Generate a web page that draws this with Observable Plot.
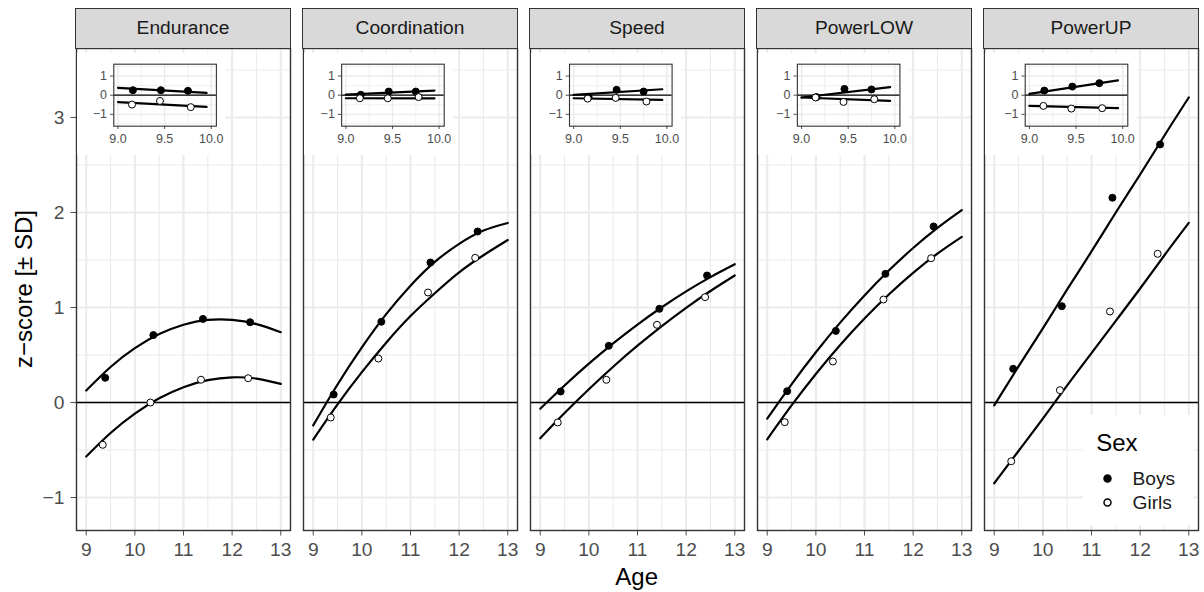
<!DOCTYPE html>
<html><head><meta charset="utf-8">
<script src="https://cdn.jsdelivr.net/npm/d3@7"></script>
<script src="https://cdn.jsdelivr.net/npm/@observablehq/plot@0.6"></script>
<style>
body{margin:0;background:#fff;}
#chart{position:relative;width:1204px;height:592px;font-family:"Liberation Sans",Arial,sans-serif;overflow:hidden;}
#chart svg{display:block;}
.strip{position:absolute;box-sizing:border-box;background:#D9D9D9;border:1.4px solid #333333;color:#1A1A1A;font-size:19.2px;display:flex;align-items:center;justify-content:center;}
.title{position:absolute;color:#000;font-size:24px;white-space:nowrap;transform:translate(-50%,-50%);}
</style></head><body><div id="chart"></div>
<script>
// ---------- data ----------
const facets = ["Endurance", "Coordination", "Speed", "PowerLOW", "PowerUP"];
const sexes = ["Boys", "Girls"];
const xTicks = [9, 10, 11, 12, 13];
const xMinor = [9.5, 10.5, 11.5, 12.5];
const yTicks = [-1, 0, 1, 2, 3];
const yMinor = [-0.5, 0.5, 1.5, 2.5, 3.5];

// observed group means (main panels)
const ptAgeBoys = [[9.39, 10.38, 11.40, 12.37], [9.42, 10.40, 11.41, 12.38], [9.42, 10.41, 11.45, 12.43], [9.41, 10.41, 11.43, 12.42], [9.39, 10.39, 11.43, 12.41]];
const ptZBoys = [[0.26, 0.71, 0.88, 0.845], [0.084, 0.85, 1.474, 1.80], [0.116, 0.597, 0.986, 1.337], [0.119, 0.754, 1.354, 1.853], [0.355, 1.014, 2.155, 2.716]];
const ptAgeGirls = [[9.34, 10.32, 11.36, 12.33], [9.36, 10.34, 11.36, 12.33], [9.36, 10.36, 11.40, 12.39], [9.36, 10.35, 11.39, 12.37], [9.35, 10.35, 11.38, 12.36]];
const ptZGirls = [[-0.445, 0.0, 0.24, 0.256], [-0.158, 0.463, 1.158, 1.523], [-0.21, 0.239, 0.818, 1.109], [-0.207, 0.432, 1.084, 1.519], [-0.618, 0.13, 0.958, 1.565]];

// fitted curves (read at half-year ages)
const fitAges = [9, 9.5, 10, 10.5, 11, 11.5, 12, 12.5, 13];
const fitBoys = [
  [0.126, 0.374, 0.572, 0.720, 0.819, 0.869, 0.869, 0.825, 0.74],
  [-0.24, 0.19, 0.58, 0.93, 1.23, 1.48, 1.67, 1.81, 1.89],
  [-0.066, 0.179, 0.409, 0.623, 0.821, 1.003, 1.170, 1.320, 1.455],
  [-0.169, 0.192, 0.529, 0.841, 1.127, 1.389, 1.626, 1.838, 2.025],
  [-0.03, 0.38, 0.78, 1.19, 1.59, 2.00, 2.40, 2.81, 3.21]
];
const fitGirls = [
  [-0.568, -0.321, -0.117, 0.044, 0.161, 0.235, 0.265, 0.252, 0.196],
  [-0.39, -0.02, 0.32, 0.63, 0.91, 1.15, 1.37, 1.55, 1.71],
  [-0.376, -0.111, 0.140, 0.377, 0.598, 0.805, 0.997, 1.174, 1.337],
  [-0.387, -0.031, 0.300, 0.605, 0.884, 1.137, 1.365, 1.567, 1.743],
  [-0.85, -0.51, -0.17, 0.18, 0.52, 0.86, 1.20, 1.55, 1.89]
];

// inset panels (baseline ages)
const insetXTicks = [9, 9.5, 10];
const insetXMinor = [9.25, 9.75];
const insetYTicks = [-1, 0, 1];
const insetYMinor = [-1.5, -0.5, 0.5, 1.5];
const insetAgeBoys = [9.16, 9.46, 9.75];
const insetAgeGirls = [9.15, 9.45, 9.78];
const insetZBoys = [[0.26, 0.26, 0.23], [0.02, 0.19, 0.19], [-0.10, 0.28, 0.19], [-0.10, 0.33, 0.30], [0.24, 0.45, 0.63]];
const insetZGirls = [[-0.49, -0.30, -0.625], [-0.16, -0.16, -0.10], [-0.18, -0.14, -0.33], [-0.12, -0.35, -0.21], [-0.56, -0.70, -0.68]];
const insetLineAge = [9.0, 9.95];
const insetLineBoys = [[0.38, 0.12], [0.03, 0.24], [0.02, 0.31], [-0.12, 0.42], [0.07, 0.77]];
const insetLineGirls = [[-0.36, -0.61], [-0.16, -0.17], [-0.16, -0.24], [-0.12, -0.30], [-0.56, -0.68]];

// ---------- tables ----------
const mk = (ages, vals, sex, facet) => ages.map((a, j) => ({facet, sex, age: a, z: vals[j]}));
const boysPts = facets.flatMap((f, i) => mk(ptAgeBoys[i], ptZBoys[i], "Boys", f));
const girlsPts = facets.flatMap((f, i) => mk(ptAgeGirls[i], ptZGirls[i], "Girls", f));
const fitRows = facets.flatMap((f, i) => [...mk(fitAges, fitBoys[i], "Boys", f), ...mk(fitAges, fitGirls[i], "Girls", f)]);

const FONT = '"Liberation Sans", Arial, sans-serif';
const intFmt = d3.format("d");
const chart = document.getElementById("chart");
const R = 3.5;

const main = Plot.plot({
  width: 1204, height: 592,
  marginTop: 48, marginBottom: 62, marginLeft: 75.7, marginRight: 6.3,
  style: {fontFamily: FONT, fontSize: "19.2px", color: "#4D4D4D", background: "white"},
  fx: {domain: facets, paddingInner: 0.0577, paddingOuter: 0, axis: null, label: null},
  x: {domain: [8.8, 13.2], ticks: xTicks, tickFormat: intFmt, tickSize: 5.5, tickPadding: 6.5, label: null},
  y: {domain: [-1.347, 3.726], ticks: yTicks, tickFormat: intFmt, tickSize: 5.5, tickPadding: 6.5, label: null},
  marks: [
    Plot.ruleX(xMinor, {stroke: "#EBEBEB", strokeWidth: 1.1}),
    Plot.ruleY(yMinor, {stroke: "#EBEBEB", strokeWidth: 1.1}),
    Plot.ruleX(xTicks, {stroke: "#EBEBEB", strokeWidth: 2.1}),
    Plot.ruleY(yTicks, {stroke: "#EBEBEB", strokeWidth: 2.1}),
    Plot.ruleY([0], {stroke: "black", strokeWidth: 1.3}),
    Plot.line(fitRows, {fx: "facet", x: "age", y: "z", z: "sex", curve: "natural", stroke: "black", strokeWidth: 2.2}),
    Plot.dot(boysPts, {fx: "facet", x: "age", y: "z", r: R, fill: "black", stroke: "black", strokeWidth: 1}),
    Plot.dot(girlsPts, {fx: "facet", x: "age", y: "z", r: R, fill: "white", stroke: "black", strokeWidth: 1}),
    Plot.frame({stroke: "#333333", strokeWidth: 1.4})
  ]
});
main.style.position = "absolute"; main.style.left = "0px"; main.style.top = "0px";
chart.appendChild(main);

const fx = main.scale("fx");
const bw = fx.bandwidth;

facets.forEach((f, i) => {
  const left = fx.apply(f);
  // strip
  const s = document.createElement("div");
  s.className = "strip";
  s.style.left = (left - 0.7) + "px"; s.style.top = "8.3px";
  s.style.width = (bw + 1.4) + "px"; s.style.height = "40.4px";
  s.textContent = f;
  chart.appendChild(s);

  // inset
  const mL = 36.3 + 0.85 * i;
  const ib = insetAgeBoys.map((a, j) => ({age: a, z: insetZBoys[i][j]}));
  const ig = insetAgeGirls.map((a, j) => ({age: a, z: insetZGirls[i][j]}));
  const il = [...mk(insetLineAge, insetLineBoys[i], "Boys", f), ...mk(insetLineAge, insetLineGirls[i], "Girls", f)];
  const ip = Plot.plot({
    width: mL + 102.6 + 9.7, height: 101.7,
    marginLeft: mL, marginRight: 9.7, marginTop: 10.7, marginBottom: 29,
    style: {fontFamily: FONT, fontSize: "12.5px", color: "#4D4D4D", background: "white", overflow: "visible"},
    x: {domain: [8.955, 10.055], ticks: insetXTicks, tickFormat: d3.format(".1f"), tickSize: 3.3, tickPadding: 4.5, label: null},
    y: {domain: [-1.62, 1.62], ticks: insetYTicks, tickFormat: intFmt, tickSize: 3.3, tickPadding: 3.5, label: null},
    marks: [
      Plot.ruleX(insetXMinor, {stroke: "#EBEBEB", strokeWidth: 0.8}),
      Plot.ruleY(insetYMinor, {stroke: "#EBEBEB", strokeWidth: 0.8}),
      Plot.ruleX(insetXTicks, {stroke: "#EBEBEB", strokeWidth: 1.4}),
      Plot.ruleY(insetYTicks, {stroke: "#EBEBEB", strokeWidth: 1.4}),
      Plot.ruleY([0], {stroke: "black", strokeWidth: 1.2}),
      Plot.line(il, {x: "age", y: "z", z: "sex", stroke: "black", strokeWidth: 2.2}),
      Plot.dot(ib, {x: "age", y: "z", r: R, fill: "black", stroke: "black", strokeWidth: 1}),
      Plot.dot(ig, {x: "age", y: "z", r: R, fill: "white", stroke: "black", strokeWidth: 1}),
      Plot.frame({stroke: "#333333", strokeWidth: 1.1})
    ]
  });
  ip.style.position = "absolute"; ip.style.left = (left + 0.7) + "px"; ip.style.top = "53.3px";
  chart.appendChild(ip);
});

// legend
const lg = Plot.plot({
  width: 110, height: 110, margin: 0,
  x: {domain: [0, 1], axis: null},
  y: {type: "point", domain: sexes, range: [63, 87], padding: 0, axis: null},
  style: {fontFamily: FONT, fontSize: "19.2px", color: "#1A1A1A", background: "white"},
  marks: [
    Plot.text(["Sex"], {frameAnchor: "top-left", dx: 12.7, dy: 28, text: d => d, textAnchor: "start", lineAnchor: "middle", fontSize: 24, fill: "black"}),
    Plot.dot(["Boys"], {y: d => d, frameAnchor: "left", dx: 24, r: R, fill: "black", stroke: "black"}),
    Plot.dot(["Girls"], {y: d => d, frameAnchor: "left", dx: 24, r: R, fill: "white", stroke: "black"}),
    Plot.text(sexes, {y: d => d, text: d => d, frameAnchor: "left", dx: 49, textAnchor: "start", fill: "#1A1A1A"})
  ]
});
lg.style.position = "absolute"; lg.style.left = "1083px"; lg.style.top = "415px";
chart.appendChild(lg);

// axis titles
const yt = document.createElement("div");
yt.className = "title"; yt.textContent = "z\u2212score [\u00b1 SD]";
yt.style.left = "24px"; yt.style.top = "289px";
yt.style.transform = "translate(-50%,-50%) rotate(-90deg)";
chart.appendChild(yt);
const xt = document.createElement("div");
xt.className = "title"; xt.textContent = "Age";
xt.style.left = "636.7px"; xt.style.top = "577px";
chart.appendChild(xt);
</script></body></html>
